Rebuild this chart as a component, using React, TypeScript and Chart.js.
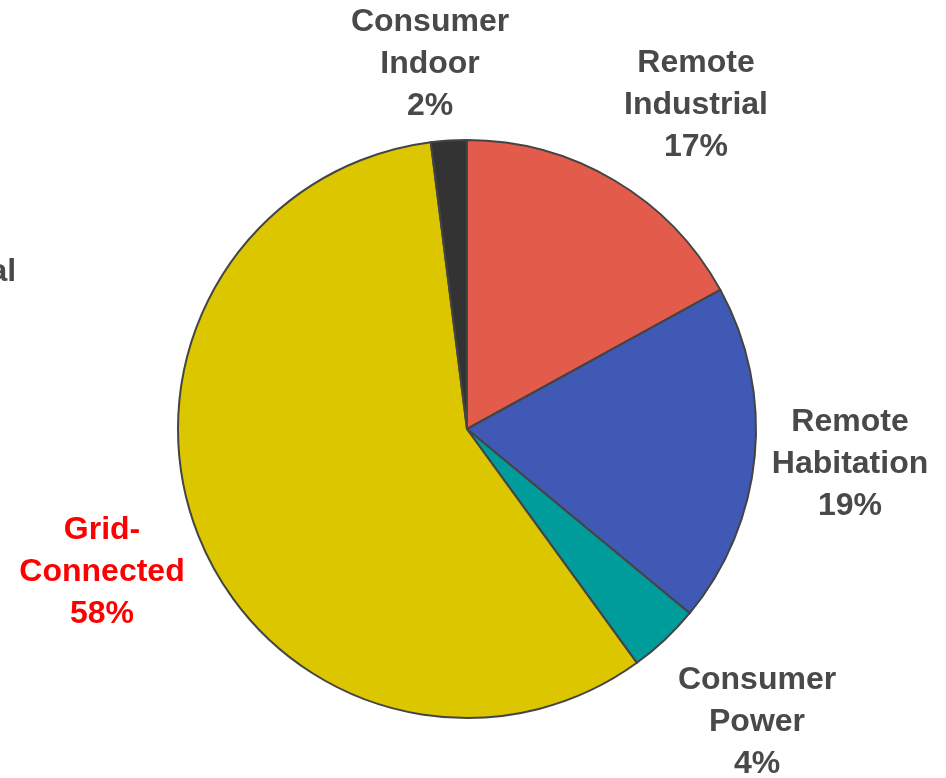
import React, { useEffect, useRef } from "react";
import { Chart, registerables } from "chart.js";

Chart.register(...registerables);

// Market segments, clockwise from 12 o'clock
const segments = ["Remote Industrial", "Remote Habitation", "Consumer Power", "Grid-Connected", "Consumer Indoor"];
const shares = [17, 19, 4, 58, 2];
const sliceColors = ["#E35B4B", "#3F59B4", "#009B9B", "#DBC600", "#333333"];

// Label text lines (the last line is the share) and where each block is centred
const labelLines = [
  ["Remote", "Industrial"],
  ["Remote", "Habitation"],
  ["Consumer", "Power"],
  ["Grid-", "Connected"],
  ["Consumer", "Indoor"],
];
const labelColors = ["#494949", "#494949", "#494949", "#FF0000", "#494949"];
const labelAnchors = [
  { x: 696, y: 63 },
  { x: 850, y: 422 },
  { x: 757, y: 680 },
  { x: 102, y: 530 },
  { x: 430, y: 22 },
];
// A segment label that sits mostly past the left edge
const edgeLabel = { lines: ["Grid-", "Central"], x: -39, y: 230 };

const LINE_GAP = 42;
const FONT = "bold 32px 'Liberation Sans', Arial, sans-serif";

const labelPlugin = {
  id: "segmentLabels",
  afterDraw(chart: any) {
    const ctx = chart.ctx;
    ctx.save();
    ctx.font = FONT;
    ctx.textAlign = "center";
    ctx.textBaseline = "middle";
    labelLines.forEach((lines, i) => {
      const all = [...lines, `${shares[i]}%`];
      ctx.fillStyle = labelColors[i];
      all.forEach((t, j) => ctx.fillText(t, labelAnchors[i].x, labelAnchors[i].y + j * LINE_GAP));
    });
    ctx.fillStyle = "#494949";
    edgeLabel.lines.forEach((t, j) => ctx.fillText(t, edgeLabel.x, edgeLabel.y + j * LINE_GAP));
    ctx.restore();
  },
};

export default function App() {
  const ref = useRef<HTMLCanvasElement | null>(null);

  useEffect(() => {
    document.body.style.margin = "0";
    const canvas = ref.current!;
    const chart = new Chart(canvas, {
      type: "pie",
      data: {
        labels: segments,
        datasets: [
          {
            data: shares,
            backgroundColor: sliceColors,
            borderColor: "#444444",
            borderWidth: 2,
            borderJoinStyle: "miter",
          },
        ],
      },
      options: {
        responsive: false,
        animation: false,
        rotation: 0,
        layout: { padding: { left: 177, right: 189, top: 139, bottom: 59 } },
        plugins: {
          legend: { display: false },
          tooltip: { enabled: false },
        },
      },
      plugins: [labelPlugin],
    });
    return () => chart.destroy();
  }, []);

  return (
    <div style={{ width: 946, height: 778, background: "#ffffff" }}>
      <canvas ref={ref} width={946} height={778} style={{ display: "block" }} />
    </div>
  );
}
